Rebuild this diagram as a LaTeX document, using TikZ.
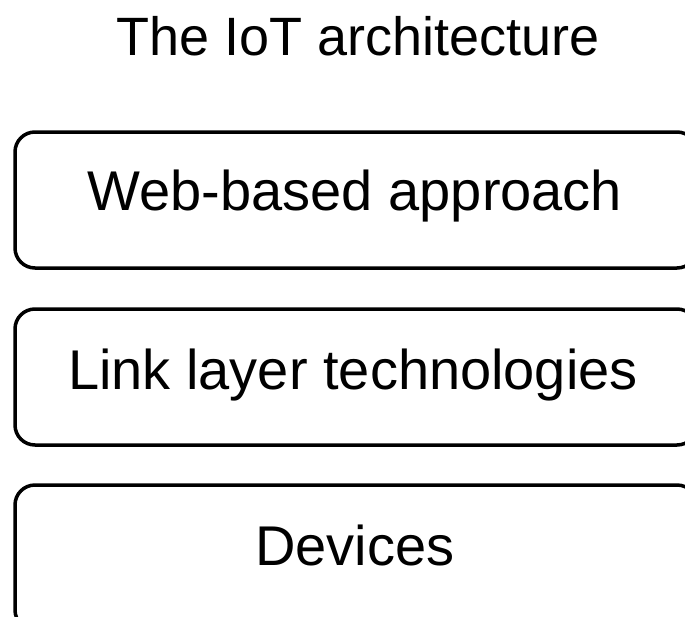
\documentclass[tikz,border=0pt]{standalone}
\usepackage{fontspec}
\setmainfont{Liberation Sans}
\begin{document}
\begin{tikzpicture}[x=1pt,y=-1pt,
  layerbox/.style={draw=black,line width=3.5pt,rounded corners=20pt},
  lbl/.style={anchor=base,inner sep=0pt,font=\fontsize{56}{62}\selectfont},
  ttl/.style={anchor=base,inner sep=0pt,font=\fontsize{54}{60}\selectfont}]
\useasboundingbox (0,0) rectangle (685,616);
\clip (0,0) rectangle (685,616);
\draw[layerbox] (15,132) rectangle (697,268);
\draw[layerbox] (15,309) rectangle (697,445);
\draw[layerbox] (15,485) rectangle (697,630);
\node[ttl] (title) at (358,55) {The IoT architecture};
\node[lbl] (web) at (355,210) {Web-based approach};
\node[lbl] (link) at (353,389) {Link layer technologies};
\node[lbl] (dev) at (355,565) {Devices};
\end{tikzpicture}
\end{document}
